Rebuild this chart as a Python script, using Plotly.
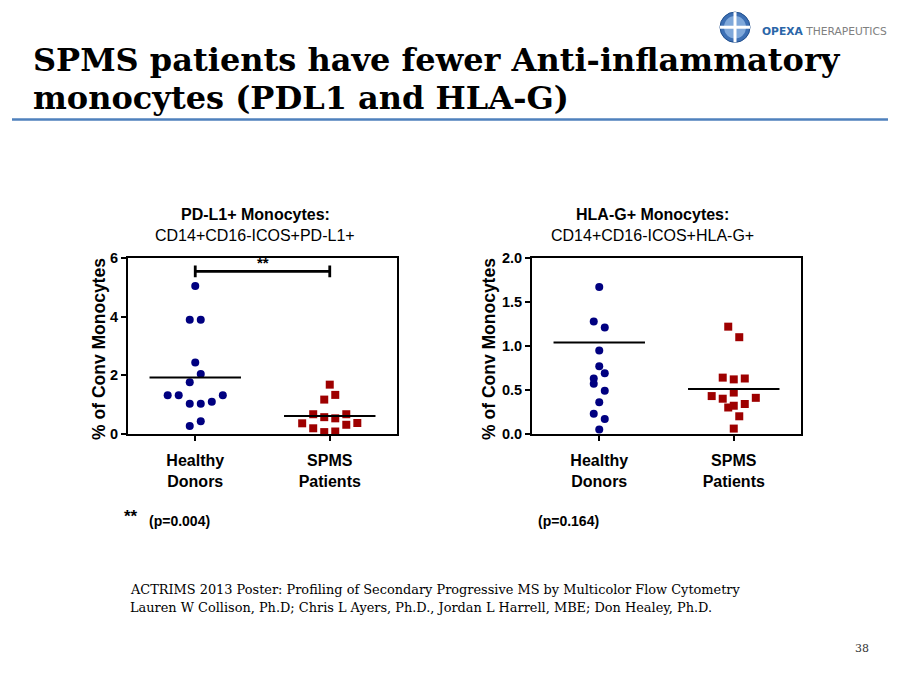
import plotly.graph_objects as go

# ---------------- data ----------------
categories = ["Healthy<br>Donors", "SPMS<br>Patients"]

# PD-L1+ monocytes (% of conv monocytes)
pdl1_healthy = [5.05, 3.90, 3.90, 2.44, 2.04, 1.76, 1.32, 1.32, 1.32, 1.03, 1.03, 1.10, 0.43, 0.27]
pdl1_healthy_jit = [0, -1, 1, 0, 1, -1, -5, -3, 5, -1, 1, 3, 1, -1]
pdl1_spms = [1.68, 1.33, 1.17, 0.67, 0.67, 0.57, 0.53, 0.36, 0.31, 0.37, 0.19, 0.06, 0.08]
pdl1_spms_jit = [0, 1, -1, -3, 3, -1, 1, -5, 3, 5, -3, -1, 1]
pdl1_lines = [1.92, 0.61]

# HLA-G+ monocytes (% of conv monocytes)
hlag_healthy = [1.67, 1.28, 1.21, 0.95, 0.77, 0.69, 0.63, 0.57, 0.49, 0.36, 0.23, 0.17, 0.05]
hlag_healthy_jit = [0, -1, 1, 0, 0, 1, -1, -1, 1, 0, -1, 1, 0]
hlag_spms = [1.22, 1.10, 0.64, 0.62, 0.63, 0.47, 0.43, 0.40, 0.41, 0.32, 0.30, 0.34, 0.20, 0.06]
hlag_spms_jit = [-1, 1, -2, 0, 2, 0, -4, -2, 4, 0, -1, 2, 1, 0]
hlag_lines = [1.04, 0.51]

pdl1_ticks = [0, 2, 4, 6]
hlag_ticks = [0.0, 0.5, 1.0, 1.5, 2.0]
sig_level = 5.55
p_values = ["0.004", "0.164"]

# ---------------- styling ----------------
W, H = 900, 675
OFF = 8  # page body margin of the html output
SANS = "Liberation Sans, Arial, sans-serif"
SERIF = "DejaVu Serif, Georgia, serif"
BLUE = "#000080"
RED = "#9E0000"
JIT = 0.041  # category units per jitter step
HALF = 0.34  # half-width of the mean line


def px_x(p):
    return (p - OFF) / W


def px_y(p):
    return 1 - (p - OFF) / H


fig = go.Figure()


def add_panel(xa, ya, healthy, hj, spms, sj, lines):
    fig.add_trace(go.Scatter(
        x=[0 + j * JIT for j in hj], y=healthy, mode="markers",
        marker=dict(symbol="circle", size=8, color=BLUE, line=dict(width=0)),
        xaxis=xa, yaxis=ya, showlegend=False, cliponaxis=False))
    fig.add_trace(go.Scatter(
        x=[1 + j * JIT for j in sj], y=spms, mode="markers",
        marker=dict(symbol="square", size=8, color=RED, line=dict(width=0)),
        xaxis=xa, yaxis=ya, showlegend=False, cliponaxis=False))
    for i, v in enumerate(lines):
        fig.add_trace(go.Scatter(
            x=[i - HALF, i + HALF], y=[v, v], mode="lines",
            line=dict(color="black", width=2),
            xaxis=xa, yaxis=ya, showlegend=False, hoverinfo="skip"))


add_panel("x", "y", pdl1_healthy, pdl1_healthy_jit, pdl1_spms, pdl1_spms_jit, pdl1_lines)
add_panel("x2", "y2", hlag_healthy, hlag_healthy_jit, hlag_spms, hlag_spms_jit, hlag_lines)

# significance bracket (left panel)
fig.add_trace(go.Scatter(
    x=[0, 0, None, 0, 1, None, 1, 1],
    y=[sig_level - 0.2, sig_level + 0.2, None, sig_level, sig_level, None,
       sig_level - 0.2, sig_level + 0.2],
    mode="lines", line=dict(color="black", width=2.8),
    xaxis="x", yaxis="y", showlegend=False, hoverinfo="skip", cliponaxis=False))

common_x = dict(range=[-0.5, 1.5], tickvals=[0, 1],
                ticktext=["<b>%s</b>" % c.replace("<br>", "</b><br><b>") for c in categories],
                ticks="outside", ticklen=5, tickwidth=1.5, tickcolor="black",
                showline=True, mirror=True, linecolor="black", linewidth=2,
                showgrid=False, zeroline=False,
                tickfont=dict(family=SANS, size=16, color="black"),
                ticklabelstandoff=6, fixedrange=True)
common_y = dict(ticks="outside", ticklen=5, tickwidth=1.5, tickcolor="black",
                showline=True, mirror=True, linecolor="black", linewidth=2,
                showgrid=False, zeroline=False,
                tickfont=dict(family=SANS, size=14.5, color="black"), fixedrange=True)

ydom = [px_y(436), px_y(256)]
fig.update_layout(
    width=W, height=H,
    margin=dict(l=0, r=0, t=0, b=0),
    paper_bgcolor="white", plot_bgcolor="white",
    xaxis=dict(domain=[px_x(128), px_x(397)], anchor="y", **common_x),
    yaxis=dict(domain=ydom, anchor="x", range=[0, 6], tickvals=pdl1_ticks,
               ticktext=["<b>%d</b>" % t for t in pdl1_ticks], **common_y),
    xaxis2=dict(domain=[px_x(532), px_x(801)], anchor="y2", **common_x),
    yaxis2=dict(domain=ydom, anchor="x2", range=[0, 2], tickvals=hlag_ticks,
                ticktext=["<b>%.1f</b>" % t for t in hlag_ticks], **common_y),
)

ann = []
# significance stars above bracket
ann.append(dict(x=0.5, y=sig_level, xref="x", yref="y", text="<b>**</b>",
                showarrow=False, yanchor="bottom", yshift=-2,
                font=dict(family=SANS, size=15, color="black")))

# panel titles
for cx, l1, l2 in [(255, "PD-L1+ Monocytes:", "CD14+CD16-ICOS+PD-L1+"),
                   (652, "HLA-G+ Monocytes:", "CD14+CD16-ICOS+HLA-G+")]:
    ann.append(dict(x=px_x(cx), y=px_y(211), xref="paper", yref="paper",
                    text="<b>%s</b>" % l1, showarrow=False, xanchor="center", yanchor="middle",
                    font=dict(family=SANS, size=16, color="black")))
    ann.append(dict(x=px_x(cx), y=px_y(233), xref="paper", yref="paper",
                    text=l2, showarrow=False, xanchor="center", yanchor="middle",
                    font=dict(family=SANS, size=16, color="black")))

# y axis titles
for cx in [99, 489]:
    ann.append(dict(x=px_x(cx), y=px_y(349), xref="paper", yref="paper",
                    text="<b>% of Conv Monocytes</b>", textangle=-90, showarrow=False,
                    xanchor="center", yanchor="middle",
                    font=dict(family=SANS, size=17.5, color="black")))

# p-values
ann.append(dict(x=px_x(122), y=px_y(521), xref="paper", yref="paper", text="<b>**</b>",
                showarrow=False, xanchor="left", yanchor="middle",
                font=dict(family=SANS, size=17, color="black")))
ann.append(dict(x=px_x(147), y=px_y(525), xref="paper", yref="paper",
                text="<b>(p=%s)</b>" % p_values[0], showarrow=False, xanchor="left", yanchor="middle",
                font=dict(family=SANS, size=14, color="black")))
ann.append(dict(x=px_x(536), y=px_y(525), xref="paper", yref="paper",
                text="<b>(p=%s)</b>" % p_values[1], showarrow=False, xanchor="left", yanchor="middle",
                font=dict(family=SANS, size=14, color="black")))

# slide title
ann.append(dict(x=px_x(31), y=px_y(53), xref="paper", yref="paper",
                text="<b>SPMS patients have fewer Anti-inflammatory</b>", showarrow=False,
                xanchor="left", yanchor="middle", font=dict(family=SERIF, size=32, color="black")))
ann.append(dict(x=px_x(31), y=px_y(92), xref="paper", yref="paper",
                text="<b>monocytes (PDL1 and HLA-G)</b>", showarrow=False,
                xanchor="left", yanchor="middle", font=dict(family=SERIF, size=32, color="black")))

# footer
ann.append(dict(x=px_x(128), y=px_y(595), xref="paper", yref="paper",
                text="ACTRIMS 2013 Poster: Profiling of Secondary Progressive MS by Multicolor Flow Cytometry",
                showarrow=False, xanchor="left", yanchor="middle",
                font=dict(family=SERIF, size=12.9, color="black")))
ann.append(dict(x=px_x(128), y=px_y(614), xref="paper", yref="paper",
                text="Lauren W Collison, Ph.D; Chris L Ayers, Ph.D., Jordan L Harrell, MBE; Don Healey, Ph.D.",
                showarrow=False, xanchor="left", yanchor="middle",
                font=dict(family=SERIF, size=12.9, color="black")))
ann.append(dict(x=px_x(871), y=px_y(656), xref="paper", yref="paper", text="38",
                showarrow=False, xanchor="right", yanchor="middle",
                font=dict(family=SERIF, size=11, color="#333333")))

# logo text
ann.append(dict(x=px_x(760), y=px_y(24), xref="paper", yref="paper",
                text="<span style='color:#2A66A8'><b>OPEXA</b></span> <span style='color:#808080'>THERAPEUTICS</span>",
                showarrow=False, xanchor="left", yanchor="middle",
                font=dict(family="DejaVu Sans, sans-serif", size=10.7)))

fig.update_layout(annotations=ann)

shapes = [
    # rule under title
    dict(type="line", xref="paper", yref="paper", x0=px_x(12), x1=px_x(888),
         y0=px_y(114), y1=px_y(114), line=dict(color="#4F81BD", width=2.5)),
    # logo sphere
    dict(type="circle", xref="paper", yref="paper", x0=px_x(720), x1=px_x(750),
         y0=px_y(35), y1=px_y(4), fillcolor="#3C6FB4", line=dict(color="#1F4E8C", width=1)),
    dict(type="circle", xref="paper", yref="paper", x0=px_x(724), x1=px_x(746),
         y0=px_y(31), y1=px_y(8), fillcolor="#7FA8DA", line=dict(width=0)),
    dict(type="line", xref="paper", yref="paper", x0=px_x(735), x1=px_x(735),
         y0=px_y(35), y1=px_y(4), line=dict(color="white", width=3)),
    dict(type="line", xref="paper", yref="paper", x0=px_x(720), x1=px_x(750),
         y0=px_y(19.5), y1=px_y(19.5), line=dict(color="white", width=3)),
]
fig.update_layout(shapes=shapes)

fig.write_html("out.html")
